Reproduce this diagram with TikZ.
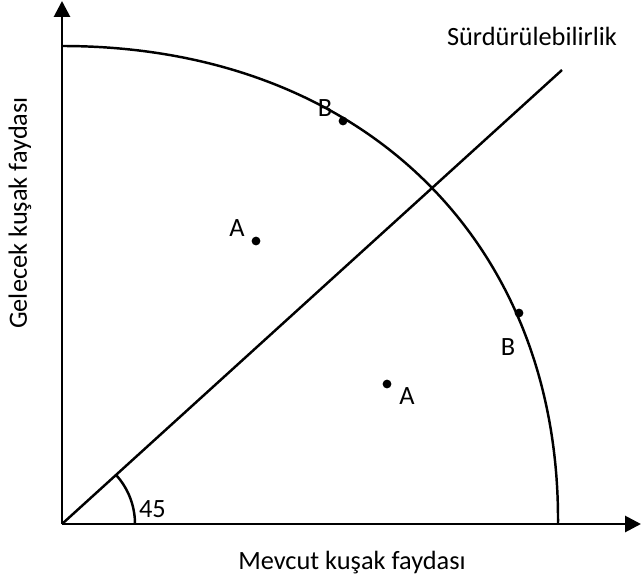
\documentclass[tikz,border=0pt]{standalone}
\usepackage{fontspec}
\setmainfont{Carlito}
\usepackage{tikz}
\usetikzlibrary{
  arrows.meta,
  positioning,
  calc
}
\tikzset{
  axis/.style={line width=1.6pt, -{Triangle[length=9pt, width=9pt]}},
  curve/.style={line width=1.4pt},
  dotpt/.style={circle, fill=black, inner sep=0pt, minimum size=5pt},
  lbl/.style={font=\fontsize{15}{17}\selectfont, inner sep=1pt},
}

\begin{document}
\begin{tikzpicture}[x=0.02cm, y=-0.02cm]
  \useasboundingbox (0,0) rectangle (642,581);

  % axes
  \coordinate (o) at (62,524);
  \coordinate (ytop) at (62,1);
  \coordinate (xend) at (641,524);
  \draw[axis] (o) -- (ytop);
  \draw[axis] (o) -- (xend);

  % possibility frontier
  \coordinate (ftop) at (62,46);
  \coordinate (fbot) at (558,524);
  \draw[curve] (ftop) .. controls (360,46) and (560,240) .. (fbot);

  % sustainability line
  \coordinate (send) at (562,70);
  \draw[curve] (o) -- (send);
  \node[lbl] (sus) at (532,36) {Sürdürülebilirlik};

  % angle
  \draw[curve] ($(o)+(73,0)$) arc[start angle=0, end angle=-42, radius=73];
  \node[lbl, anchor=west] (ang) at (137,509) {45};

  % points
  \node[dotpt] (b1) at (343,121) {};
  \node[lbl] (b1l) at (325,108) {B};
  \node[dotpt] (a1) at (256,241) {};
  \node[lbl] (a1l) at (237,228) {A};
  \node[dotpt] (b2) at (519,313) {};
  \node[lbl] (b2l) at (508,347) {B};
  \node[dotpt] (a2) at (387,384) {};
  \node[lbl] (a2l) at (407,396) {A};

  % axis titles
  \node[lbl] (xt) at (352,563) {Mevcut kuşak faydası};
  \node[lbl, rotate=90] (yt) at (20,213) {Gelecek kuşak faydası};
\end{tikzpicture}
\end{document}
